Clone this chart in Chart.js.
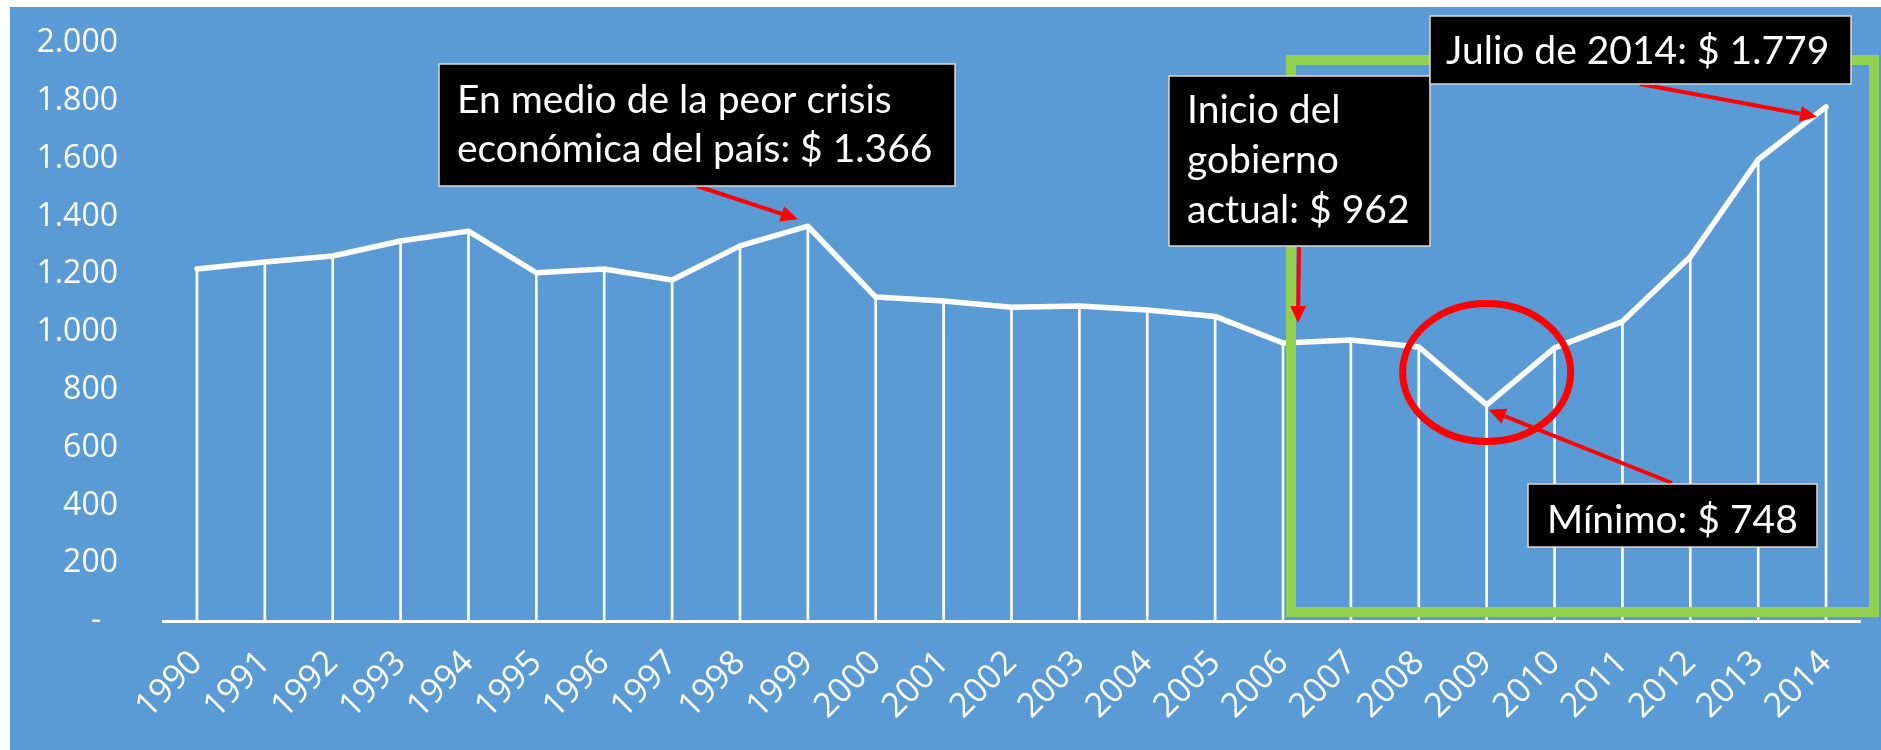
<!DOCTYPE html>
<html lang="es">
<head>
<meta charset="utf-8">
<title>Salario</title>
<script src="https://cdn.jsdelivr.net/npm/chart.js@4.4.1/dist/chart.umd.min.js"></script>
<style>
  html, body { margin: 0; padding: 0; background: #fff; overflow: hidden; }
  #wrap { position: relative; width: 1881px; height: 750px; }
</style>
</head>
<body>
<div id="wrap"><canvas id="c" width="1881" height="750"></canvas></div>
<script>
/* ===== datos ===== */
var anios = ["1990", "1991", "1992", "1993", "1994", "1995", "1996", "1997", "1998", "1999",
  "2000", "2001", "2002", "2003", "2004", "2005", "2006", "2007", "2008", "2009",
  "2010", "2011", "2012", "2013", "2014"];
var valores = [1218, 1242, 1263, 1315, 1349, 1205, 1218, 1180, 1298, 1366,
  1121, 1107, 1086, 1090, 1076, 1054, 962, 972, 948, 748,
  945, 1036, 1260, 1597, 1779];
var yMax = 2000, yPaso = 200;

// textos de los recuadros
var notaCrisis = ["En medio de la peor crisis", "económica del país: $ 1.366"];
var notaInicio = ["Inicio del", "gobierno", "actual: $ 962"];
var notaJulio = ["Julio de 2014: $ 1.779"];
var notaMinimo = ["Mínimo: $ 748"];

var AZUL = "#5b9bd5", VERDE = "#92d050", ROJO = "#ff0000", BLANCO = "#ffffff";
var FUENTE = "Lato, 'Open Sans', sans-serif";
var FUENTE_EJES = "'Open Sans', Lato, sans-serif";

function miles(v) {
  if (v === 0) return "-  ";
  return String(v).replace(/\B(?=(\d{3})+(?!\d))/g, ".");
}

function flecha(ctx, x1, y1, x2, y2) {
  var a = Math.atan2(y2 - y1, x2 - x1), L = 17, W = 8;
  var bx = x2 - L * Math.cos(a), by = y2 - L * Math.sin(a);
  ctx.beginPath(); ctx.moveTo(x1, y1); ctx.lineTo(bx, by);
  ctx.lineWidth = 4; ctx.strokeStyle = ROJO; ctx.stroke();
  ctx.beginPath(); ctx.moveTo(x2, y2);
  ctx.lineTo(bx + W * Math.sin(a), by - W * Math.cos(a));
  ctx.lineTo(bx - W * Math.sin(a), by + W * Math.cos(a));
  ctx.closePath(); ctx.fillStyle = ROJO; ctx.fill();
}

function recuadro(ctx, x, y, w, h, lineas, tx, base, paso) {
  ctx.fillStyle = "#000"; ctx.fillRect(x, y, w, h);
  ctx.lineWidth = 1.5; ctx.strokeStyle = "#d9d9d9"; ctx.strokeRect(x, y, w, h);
  ctx.fillStyle = BLANCO; ctx.font = "39px " + FUENTE;
  ctx.textAlign = "left"; ctx.textBaseline = "alphabetic";
  lineas.forEach(function (t, i) { ctx.fillText(t, tx, base + i * paso); });
}

var fondo = {
  id: "fondo",
  beforeDraw: function (chart) {
    var ctx = chart.ctx;
    ctx.save(); ctx.fillStyle = AZUL;
    ctx.fillRect(10, 7, chart.width - 10, chart.height - 7);
    ctx.restore();
  }
};

var notas = {
  id: "notas",
  afterDraw: function (chart) {
    var ctx = chart.ctx, xs = chart.scales.x, ys = chart.scales.y;
    function px(i) { return xs.getPixelForValue(i); }
    function py(i) { return ys.getPixelForValue(valores[i]); }
    ctx.save();

    // recuadro verde (gobierno actual)
    var a = chart.chartArea;
    ctx.lineWidth = 10; ctx.strokeStyle = VERDE;
    ctx.strokeRect(px(16) + 8, a.top + 17, a.right + 14 - (px(16) + 8), a.bottom - 9 - (a.top + 17));

    // elipse roja en el mínimo
    ctx.beginPath();
    ctx.ellipse(px(19), ys.getPixelForValue(860), 84, 69, 0, 0, Math.PI * 2);
    ctx.lineWidth = 7; ctx.strokeStyle = ROJO; ctx.stroke();

    // flechas
    flecha(ctx, 697, 186, px(9) - 10, py(9) - 7);
    flecha(ctx, 1299, 247, px(16) + 15, py(16) - 20);
    flecha(ctx, 1640, 84, px(24) - 9, py(24) + 10);
    flecha(ctx, 1672, 483, px(19) + 2, py(19) + 5);

    // recuadros negros
    recuadro(ctx, 439, 64, 516, 122, notaCrisis, 457, 113, 49);
    recuadro(ctx, 1169, 76, 261, 170, notaInicio, 1187, 123, 50);
    recuadro(ctx, 1430, 16, 421, 68, notaJulio, 1446, 64, 0);
    recuadro(ctx, 1528, 484, 289, 63, notaMinimo, 1547, 533, 0);
    ctx.restore();
  }
};

new Chart(document.getElementById("c"), {
  data: {
    labels: anios,
    datasets: [
      { type: "line", data: valores, borderColor: BLANCO, borderWidth: 5.5, pointRadius: 0,
        borderJoinStyle: "round", borderCapStyle: "round", tension: 0, order: 0 },
      // líneas de caída (verticales) hasta el eje
      { type: "bar", data: valores, backgroundColor: BLANCO, barThickness: 2, order: 1 }
    ]
  },
  options: {
    responsive: false, animation: false,
    layout: { padding: { left: 10, top: 43, right: 21, bottom: 0 } },
    plugins: { legend: { display: false }, tooltip: { enabled: false } },
    scales: {
      x: {
        offset: true,
        grid: { display: false, drawTicks: false },
        border: { display: true, color: BLANCO, width: 3 },
        ticks: { color: BLANCO, font: { family: FUENTE_EJES, size: 34 }, minRotation: 45, maxRotation: 45, padding: 22, autoSkip: false },
        // el área del gráfico la fija el padding del layout, no las etiquetas
        afterFit: function (s) { s.height = 129; s.paddingLeft = 0; s.paddingRight = 0; }
      },
      y: {
        min: 0, max: yMax,
        grid: { display: false, drawTicks: false },
        border: { display: false },
        ticks: { stepSize: yPaso, color: BLANCO, font: { family: FUENTE_EJES, size: 32 }, padding: 45, callback: function (v) { return miles(v); } },
        afterFit: function (s) { s.width = 153; s.paddingTop = 0; s.paddingBottom = 0; }
      }
    }
  },
  plugins: [fondo, notas]
});
</script>
</body>
</html>
